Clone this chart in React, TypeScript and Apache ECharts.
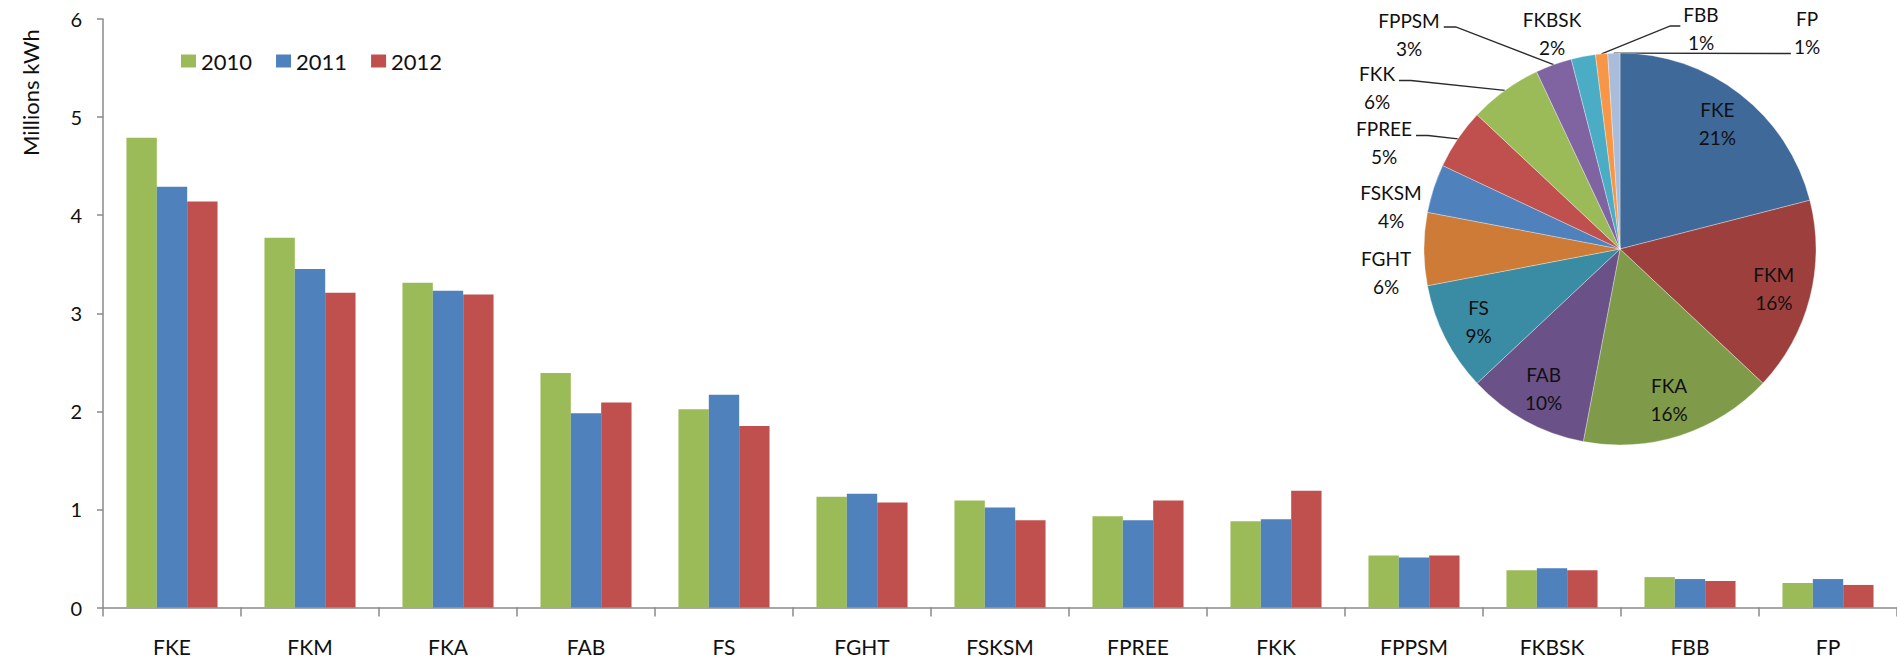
import React, { useEffect, useRef } from "react";
import * as echarts from "echarts";

// Faculties, in the order they are plotted on the category axis
const categories = ["FKE", "FKM", "FKA", "FAB", "FS", "FGHT", "FSKSM", "FPREE", "FKK", "FPPSM", "FKBSK", "FBB", "FP"];
const years = ["2010", "2011", "2012"];

// Electricity use per faculty, millions of kWh
const usage2010 = [4.79, 3.77, 3.31, 2.39, 2.02, 1.13, 1.09, 0.93, 0.88, 0.53, 0.38, 0.31, 0.25];
const usage2011 = [4.29, 3.45, 3.23, 1.98, 2.17, 1.16, 1.02, 0.89, 0.9, 0.51, 0.4, 0.29, 0.29];
const usage2012 = [4.14, 3.21, 3.19, 2.09, 1.85, 1.07, 0.89, 1.09, 1.19, 0.53, 0.38, 0.27, 0.23];

// Value axis ticks
const yMin = 0;
const yMax = 6;
const yStep = 1;

// Share of total consumption, percent (clockwise from 12 o'clock)
const shareNames = ["FKE", "FKM", "FKA", "FAB", "FS", "FGHT", "FSKSM", "FPREE", "FKK", "FPPSM", "FKBSK", "FBB", "FP"];
const sharePercent = [21, 16, 16, 10, 9, 6, 4, 5, 6, 3, 2, 1, 1];

// Styling
const FONT = "Lato";
const TEXT = "#101010";
const AXIS = "#8a8a8a";
const barColors = ["#9BBB59", "#4F81BD", "#C0504D"];
const sliceColors = [
  "#3F6999", "#9D403D", "#7F9B4A", "#6A5188", "#3A8CA4", "#CD7B37",
  "#4F81BD", "#C0504D", "#9BBB59", "#8064A2", "#4BACC6", "#F79646", "#A9BCDA",
];

// Pie geometry (px)
const PIE_CX = 1620;
const PIE_CY = 249;
const PIE_R = 196;
const INSIDE_RATIO = 0.81;
const LABEL_LINE_H = 28;

// Where the small slices put their labels, relative to the pie centre
type Leader = "right" | "left" | "leftLow";
const outsideLabelSpots: Record<string, { dx: number; dy: number; leader?: Leader }> = {
  FGHT: { dx: -234, dy: 23.5 },
  FSKSM: { dx: -229, dy: -43 },
  FPREE: { dx: -236, dy: -106.5, leader: "right" },
  FKK: { dx: -243, dy: -161.5, leader: "right" },
  FPPSM: { dx: -211, dy: -215, leader: "right" },
  FKBSK: { dx: -68, dy: -215.5 },
  FBB: { dx: 81, dy: -221, leader: "left" },
  FP: { dx: 187, dy: -216.5, leader: "leftLow" },
};

function midAngles(values: number[]): number[] {
  const total = values.reduce((a, b) => a + b, 0);
  let acc = 0;
  return values.map((v) => {
    const mid = ((acc + v / 2) / total) * 360;
    acc += v;
    return mid;
  });
}

export default function App() {
  const ref = useRef<HTMLDivElement>(null);

  useEffect(() => {
    if (!ref.current) return;
    const chart = echarts.init(ref.current, null, { renderer: "svg" });
    const mids = midAngles(sharePercent);

    const barSeries = [usage2010, usage2011, usage2012].map((vals, i) => ({
      name: years[i],
      type: "bar",
      data: vals,
      barGap: "0%",
      barCategoryGap: "34%",
      itemStyle: { color: barColors[i] },
      z: 2,
    }));

    const pieData = shareNames.map((name, i) => {
      const spot = outsideLabelSpots[name];
      const item: any = {
        name,
        value: sharePercent[i],
        itemStyle: { color: sliceColors[i] },
      };
      if (!spot) {
        item.label = { position: "inside" };
        item.labelLine = { show: false };
      } else if (!spot.leader) {
        item.labelLine = { show: false };
      }
      return item;
    });

    chart.setOption({
      animation: false,
      textStyle: { fontFamily: FONT },
      grid: { left: 103, right: 0, top: 19, bottom: 52.5, containLabel: false },
      legend: {
        data: years,
        left: 181,
        top: 50,
        padding: 0,
        icon: "rect",
        itemWidth: 15,
        itemHeight: 13,
        itemGap: 24,
        itemStyle: { borderWidth: 0 },
        textStyle: { fontFamily: FONT, fontSize: 22, color: TEXT },
      },
      xAxis: {
        type: "category",
        data: categories,
        boundaryGap: true,
        axisLine: { show: true, lineStyle: { color: AXIS, width: 1.5 } },
        axisTick: { show: true, length: 9, alignWithLabel: false, lineStyle: { color: AXIS, width: 1.5 } },
        axisLabel: { margin: 28, fontFamily: FONT, fontSize: 21, color: TEXT },
        splitLine: { show: false },
      },
      yAxis: {
        type: "value",
        min: yMin,
        max: yMax,
        interval: yStep,
        axisLine: { show: true, lineStyle: { color: AXIS, width: 1.5 } },
        axisTick: { show: true, length: 6, lineStyle: { color: AXIS, width: 1.5 } },
        axisLabel: { margin: 21, fontFamily: FONT, fontSize: 20, color: TEXT },
        splitLine: { show: false },
      },
      graphic: [
        {
          type: "text",
          x: 30.5,
          y: 92.5,
          rotation: Math.PI / 2,
          style: {
            text: "Millions kWh",
            align: "center",
            verticalAlign: "middle",
            fontFamily: FONT,
            fontSize: 22,
            fill: TEXT,
          },
        },
      ],
      series: [
        ...barSeries,
        {
          name: "Share",
          type: "pie",
          center: [PIE_CX, PIE_CY],
          radius: PIE_R,
          startAngle: 90,
          clockwise: true,
          avoidLabelOverlap: false,
          z: 5,
          itemStyle: { borderColor: "rgba(255,255,255,0.55)", borderWidth: 0.6 },
          label: {
            show: true,
            position: "outside",
            formatter: "{b}\n{c}%",
            fontFamily: FONT,
            fontSize: 19,
            lineHeight: LABEL_LINE_H,
            color: TEXT,
            align: "center",
          },
          labelLine: { show: true, smooth: false, lineStyle: { color: "#2a2a2a", width: 1.3 } },
          labelLayout: (params: any) => {
            const i = params.dataIndex;
            const name = shareNames[i];
            const theta = (mids[i] * Math.PI) / 180;
            const sx = Math.sin(theta);
            const sy = -Math.cos(theta);
            const spot = outsideLabelSpots[name];
            if (!spot) {
              return {
                x: PIE_CX + INSIDE_RATIO * PIE_R * sx,
                y: PIE_CY + INSIDE_RATIO * PIE_R * sy,
                align: "center",
                verticalAlign: "middle",
              };
            }
            const x = PIE_CX + spot.dx;
            const y = PIE_CY + spot.dy;
            const out: any = { x, y, align: "center", verticalAlign: "middle" };
            if (spot.leader) {
              const w = params.labelRect.width;
              const edge = [PIE_CX + PIE_R * sx, PIE_CY + PIE_R * sy];
              const firstRow = y - LABEL_LINE_H / 2;
              let anchor: number[];
              let elbow: number[];
              if (spot.leader === "right") {
                anchor = [x + w / 2 + 4, firstRow + 7];
                elbow = [anchor[0] + 12, anchor[1]];
              } else if (spot.leader === "left") {
                anchor = [x - w / 2 - 3, firstRow + 12];
                elbow = [anchor[0] - 10, anchor[1]];
              } else {
                anchor = [x - w / 2 - 3, firstRow + LABEL_LINE_H + 7];
                elbow = [anchor[0] - 10, anchor[1]];
              }
              out.labelLinePoints = [edge, elbow, anchor];
            }
            return out;
          },
          data: pieData,
        },
      ],
    });

    return () => chart.dispose();
  }, []);

  return (
    <div
      ref={ref}
      style={{ position: "absolute", left: 0, top: 0, width: 1897, height: 660, background: "#fff" }}
    />
  );
}
